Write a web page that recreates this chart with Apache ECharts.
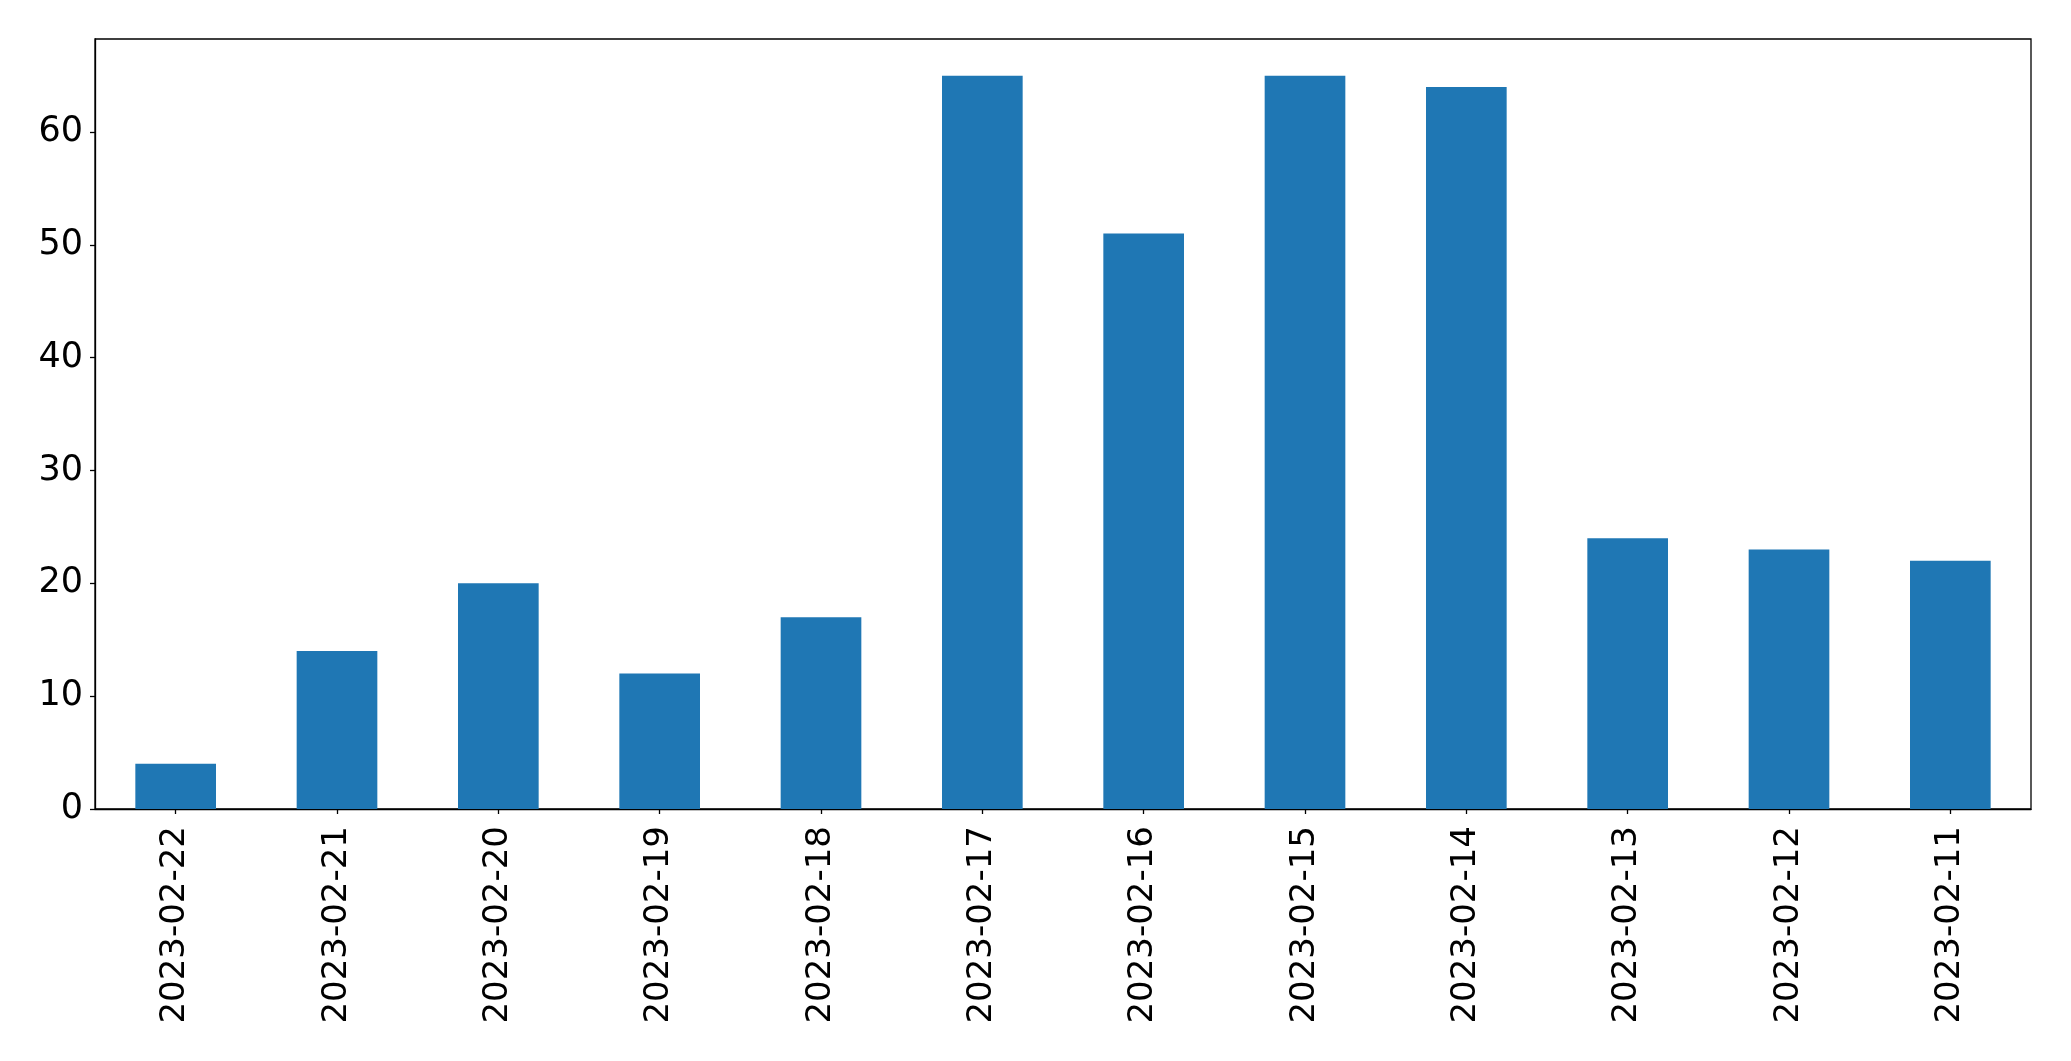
<!DOCTYPE html>
<html>
<head>
<meta charset="utf-8">
<script src="https://cdn.jsdelivr.net/npm/echarts@6/dist/echarts.min.js"></script>
<style>
html,body{margin:0;padding:0;background:#fff;}
#chart{width:2071px;height:1061px;}
</style>
</head>
<body>
<div id="chart"></div>
<script>
const categories = ['2023-02-22','2023-02-21','2023-02-20','2023-02-19','2023-02-18','2023-02-17','2023-02-16','2023-02-15','2023-02-14','2023-02-13','2023-02-12','2023-02-11'];
const values = [4, 14, 20, 12, 17, 65, 51, 65, 64, 24, 23, 22];
const yTicks = [0, 10, 20, 30, 40, 50, 60];

const chart = echarts.init(document.getElementById('chart'), null, {renderer: 'canvas'});
const font = 'DejaVu Sans';
chart.setOption({
  animation: false,
  backgroundColor: '#ffffff',
  grid: {left: 95, right: 40, top: 39, bottom: 252, show: true, borderColor: '#000', borderWidth: 1.3, backgroundColor: 'transparent'},
  xAxis: {
    type: 'category',
    data: categories,
    boundaryGap: true,
    axisLine: {show: true, lineStyle: {color: '#000', width: 1.3}},
    axisTick: {show: true, alignWithLabel: true, length: 5, lineStyle: {color: '#000', width: 1.3}},
    axisLabel: {rotate: 90, interval: 0, margin: 17, color: '#000', fontSize: 34, fontFamily: font},
    splitLine: {show: false}
  },
  yAxis: {
    type: 'value',
    min: 0,
    max: 68.25,
    interval: 10,
    axisLine: {show: true, lineStyle: {color: '#000', width: 1.3}},
    axisTick: {show: true, length: 5, customValues: yTicks, lineStyle: {color: '#000', width: 1.3}},
    axisLabel: {
      margin: 12, color: '#000', fontSize: 35, fontFamily: font, customValues: yTicks,
      formatter: function (v) { return yTicks.indexOf(v) >= 0 ? String(v) : ''; }
    },
    splitLine: {show: false}
  },
  series: [{
    type: 'bar',
    data: values,
    barWidth: '50%',
    itemStyle: {color: '#1f77b4'}
  }]
});
</script>
</body>
</html>
